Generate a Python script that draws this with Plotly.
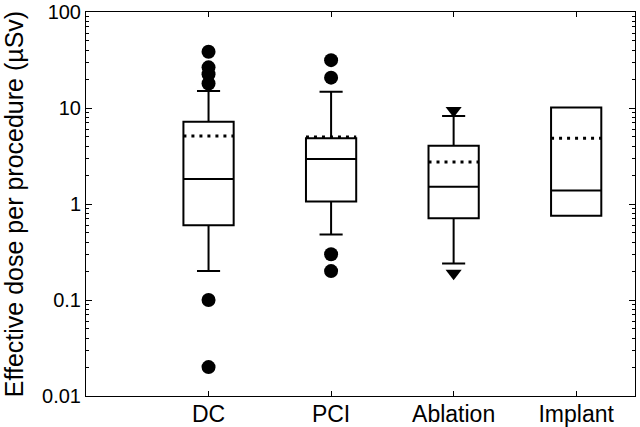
import plotly.graph_objects as go

categories = ["DC", "PCI", "Ablation", "Implant"]
positions = [1, 2, 3, 4]

q1 = [0.60, 1.06, 0.71, 0.755]
median = [1.82, 2.94, 1.51, 1.38]
q3 = [7.2, 4.85, 4.05, 10.1]
lowerfence = [0.20, 0.48, 0.24, 0.755]
upperfence = [15.0, 14.8, 8.26, 10.1]
means = [5.1, 5.0, 2.74, 4.85]

# outliers (circles)
out_circle_x = ["DC", "DC", "DC", "DC", "DC", "DC", "PCI", "PCI", "PCI", "PCI"]
out_circle_y = [38.5, 26.5, 22.5, 18.0, 0.10, 0.02, 31.5, 20.7, 0.30, 0.20]
# 5th/95th percentile markers (triangles)
out_tri_x = ["Ablation", "Ablation"]
out_tri_y = [9.4, 0.19]

y_ticks = [0.01, 0.1, 1, 10, 100]
y_ticktext = ["0.01", "0.1", "1", "10", "100"]

box_w = 0.41
pos_of = dict(zip(categories, positions))

fig = go.Figure()
fig.add_trace(go.Box(
    x=positions, q1=q1, median=median, q3=q3,
    lowerfence=lowerfence, upperfence=upperfence,
    width=box_w, whiskerwidth=0.46,
    line=dict(color="black", width=2), fillcolor="white",
    boxpoints=False, showlegend=False, hoverinfo="skip",
))

for p, m in zip(positions, means):
    fig.add_trace(go.Scatter(
        x=[p - box_w / 2, p + box_w / 2], y=[m, m], mode="lines",
        line=dict(color="black", width=3, dash="3px,5px"),
        showlegend=False, hoverinfo="skip",
    ))

fig.add_trace(go.Scatter(
    x=[pos_of[c] for c in out_circle_x], y=out_circle_y, mode="markers",
    marker=dict(symbol="circle", size=14, color="black"),
    showlegend=False,
))
fig.add_trace(go.Scatter(
    x=[pos_of[c] for c in out_tri_x], y=out_tri_y, mode="markers",
    marker=dict(symbol="triangle-down", size=14, color="black"),
    showlegend=False,
))

minor_vals = [k * 10 ** e for e in range(-2, 2) for k in range(2, 10)]

fig.update_layout(
    width=640, height=427,
    margin=dict(l=86, r=5, t=12, b=31, autoexpand=False),
    paper_bgcolor="white", plot_bgcolor="white",
    font=dict(family="Liberation Sans, Arial, sans-serif", color="black", size=20),
    showlegend=False,
)
fig.update_xaxes(
    range=[0, 4.48], tickvals=positions, ticktext=categories,
    showline=True, linecolor="black", linewidth=1, mirror="ticks",
    ticks="inside", ticklen=5, tickcolor="black", tickwidth=1,
    showgrid=False, zeroline=False, tickfont=dict(size=23), automargin=False,
    ticklabelstandoff=-3,
)
fig.update_yaxes(
    type="log", range=[-2, 2], tickvals=y_ticks, ticktext=y_ticktext,
    showline=True, linecolor="black", linewidth=1, mirror="ticks",
    ticks="inside", ticklen=6, tickcolor="black", tickwidth=1,
    minor=dict(tickvals=minor_vals, ticks="inside", ticklen=3, tickcolor="black", showgrid=False),
    showgrid=False, zeroline=False, tickfont=dict(size=20), automargin=False,
    title=dict(text="Effective dose per procedure (µSv)", font=dict(size=25), standoff=12),
)

fig.write_html(
    "out.html",
    config={"displayModeBar": False},
    post_script="document.body.style.margin='0';document.body.style.overflow='hidden';",
)
